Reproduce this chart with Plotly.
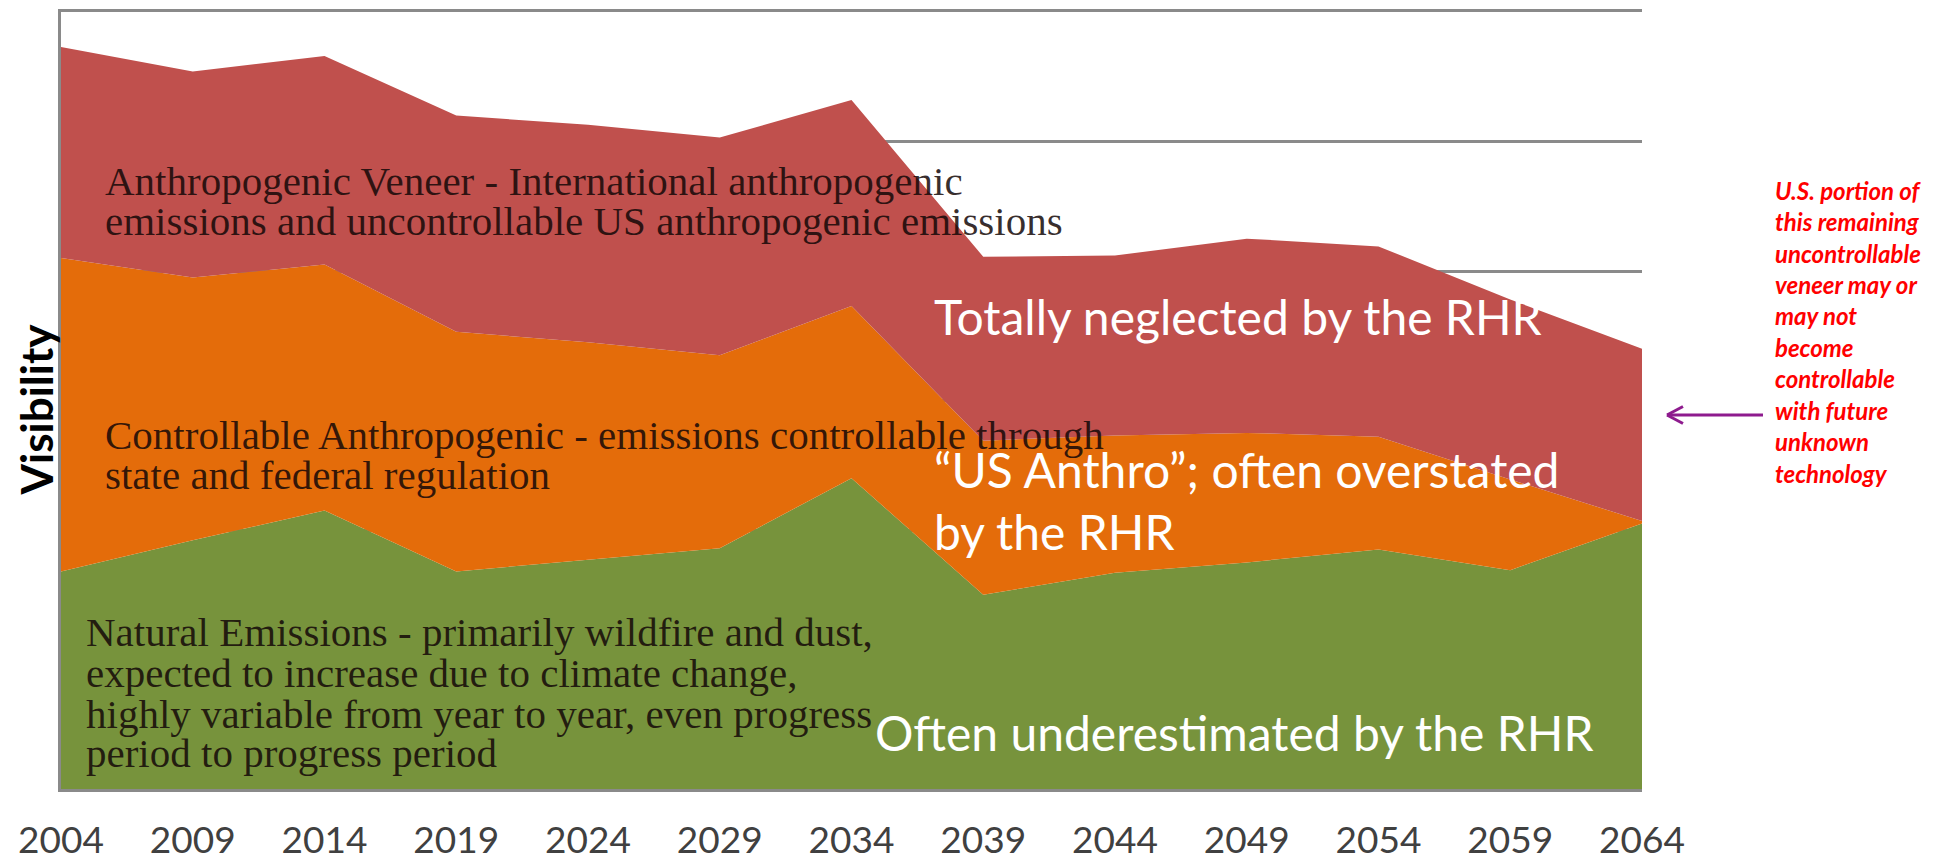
import plotly.graph_objects as go

years = [2004, 2009, 2014, 2019, 2024, 2029, 2034, 2039, 2044, 2049, 2054, 2059, 2064]
tick_labels = [str(y) for y in years]
natural = [1.68, 1.92, 2.15, 1.68, 1.77, 1.86, 2.40, 1.50, 1.67, 1.75, 1.85, 1.69, 2.05]
controllable = [2.42, 2.03, 1.90, 1.85, 1.68, 1.49, 1.33, 1.19, 1.06, 1.00, 0.87, 0.70, 0.02]
veneer = [1.63, 1.59, 1.61, 1.67, 1.68, 1.68, 1.59, 1.42, 1.39, 1.50, 1.47, 1.39, 1.33]

series_names = ["Natural Emissions", "Controllable Anthropogenic", "Anthropogenic Veneer"]
series_colors = ["#77933C", "#E46C0A", "#C0504D"]

veneer_lines = ["Anthropogenic Veneer - International anthropogenic",
                "emissions and uncontrollable US anthropogenic emissions"]
controllable_lines = ["Controllable Anthropogenic - emissions controllable through",
                      "state and federal regulation"]
natural_lines = ["Natural Emissions - primarily wildfire and dust,",
                 "expected to increase due to climate change,",
                 "highly variable from year to year, even progress",
                 "period to progress period"]
note_lines = ["U.S. portion of", "this remaining", "uncontrollable", "veneer may or",
              "may not", "become", "controllable", "with future", "unknown", "technology"]

fig = go.Figure()
for name, vals, col in zip(series_names, [natural, controllable, veneer], series_colors):
    fig.add_trace(go.Scatter(x=years, y=vals, name=name, stackgroup="one",
                             mode="lines", line=dict(width=0, color=col),
                             fillcolor=col, hoverinfo="skip"))

serif = "Liberation Serif"
sans = "Lato"
dark = "rgba(20,8,8,0.85)"
ann = []
for txt, yv in zip(veneer_lines, [4.695, 4.386]):
    ann.append(dict(x=2005.59, y=yv, text=txt, xanchor="left", yanchor="middle",
                    showarrow=False, font=dict(family=serif, size=41, color=dark)))
for txt, yv in zip(controllable_lines, [2.734, 2.425]):
    ann.append(dict(x=2005.59, y=yv, text=txt, xanchor="left", yanchor="middle",
                    showarrow=False, font=dict(family=serif, size=41, color=dark)))
for txt, yv in zip(natural_lines, [1.212, 0.896, 0.579, 0.278]):
    ann.append(dict(x=2004.87, y=yv, text=txt, xanchor="left", yanchor="middle",
                    showarrow=False, font=dict(family=serif, size=41, color=dark)))

white = dict(family=sans, size=48, color="white")
ann.append(dict(x=2037.05, y=3.645, text="Totally neglected by the RHR", xanchor="left",
                yanchor="middle", showarrow=False, font=white))
ann.append(dict(x=2037.05, y=2.47, text="\u201cUS Anthro\u201d; often overstated", xanchor="left",
                yanchor="middle", showarrow=False, font=white))
ann.append(dict(x=2037.05, y=1.985, text="by the RHR", xanchor="left",
                yanchor="middle", showarrow=False, font=white))
ann.append(dict(x=2034.82, y=0.44, text="Often underestimated by the RHR", xanchor="left",
                yanchor="middle", showarrow=False, font=white))

note_y = [4.625, 4.382, 4.139, 3.897, 3.654, 3.411, 3.168, 2.925, 2.683, 2.440]
for txt, yv in zip(note_lines, note_y):
    ann.append(dict(xref="paper", x=1.08286, y=yv, text=txt,
                    xanchor="left", yanchor="middle", align="left", showarrow=False,
                    font=dict(family=sans, size=24, color="#FF0000", weight="bold",
                              style="italic")))

ann.append(dict(xref="paper", x=-0.0158, y=2.93, text="<b>Visibility</b>", textangle=-90,
                xanchor="center", yanchor="middle", showarrow=False,
                font=dict(family=sans, size=44, color="black")))

arrow_col = "#8E1B8E"
shapes = [
    dict(type="line", xref="paper", yref="y", x0=1.07653, x1=1.01581, y0=2.888, y1=2.888,
         line=dict(color=arrow_col, width=3)),
    dict(type="line", xref="paper", yref="y", x0=1.01581, x1=1.02593, y0=2.888, y1=2.954,
         line=dict(color=arrow_col, width=3)),
    dict(type="line", xref="paper", yref="y", x0=1.01581, x1=1.02593, y0=2.888, y1=2.822,
         line=dict(color=arrow_col, width=3)),
]

fig.update_layout(
    width=1948, height=862,
    margin=dict(l=61, r=306, t=12, b=73),
    paper_bgcolor="white", plot_bgcolor="white",
    showlegend=False,
    annotations=ann, shapes=shapes,
    xaxis=dict(range=[2004, 2064], tickvals=years, ticktext=tick_labels,
               showgrid=False, zeroline=False, showline=True, linecolor="#8a8a8a",
               linewidth=3, mirror=True, ticks="outside", ticklen=17,
               tickcolor="rgba(0,0,0,0)",
               tickfont=dict(family=sans, size=37, color="#404040"), automargin=False),
    yaxis=dict(range=[0, 6], dtick=1, showgrid=True, gridcolor="#8a8a8a", gridwidth=3,
               zeroline=False, showline=True, linecolor="#8a8a8a", linewidth=3,
               showticklabels=False, ticks="", automargin=False),
)

fig.write_html("out.html")
